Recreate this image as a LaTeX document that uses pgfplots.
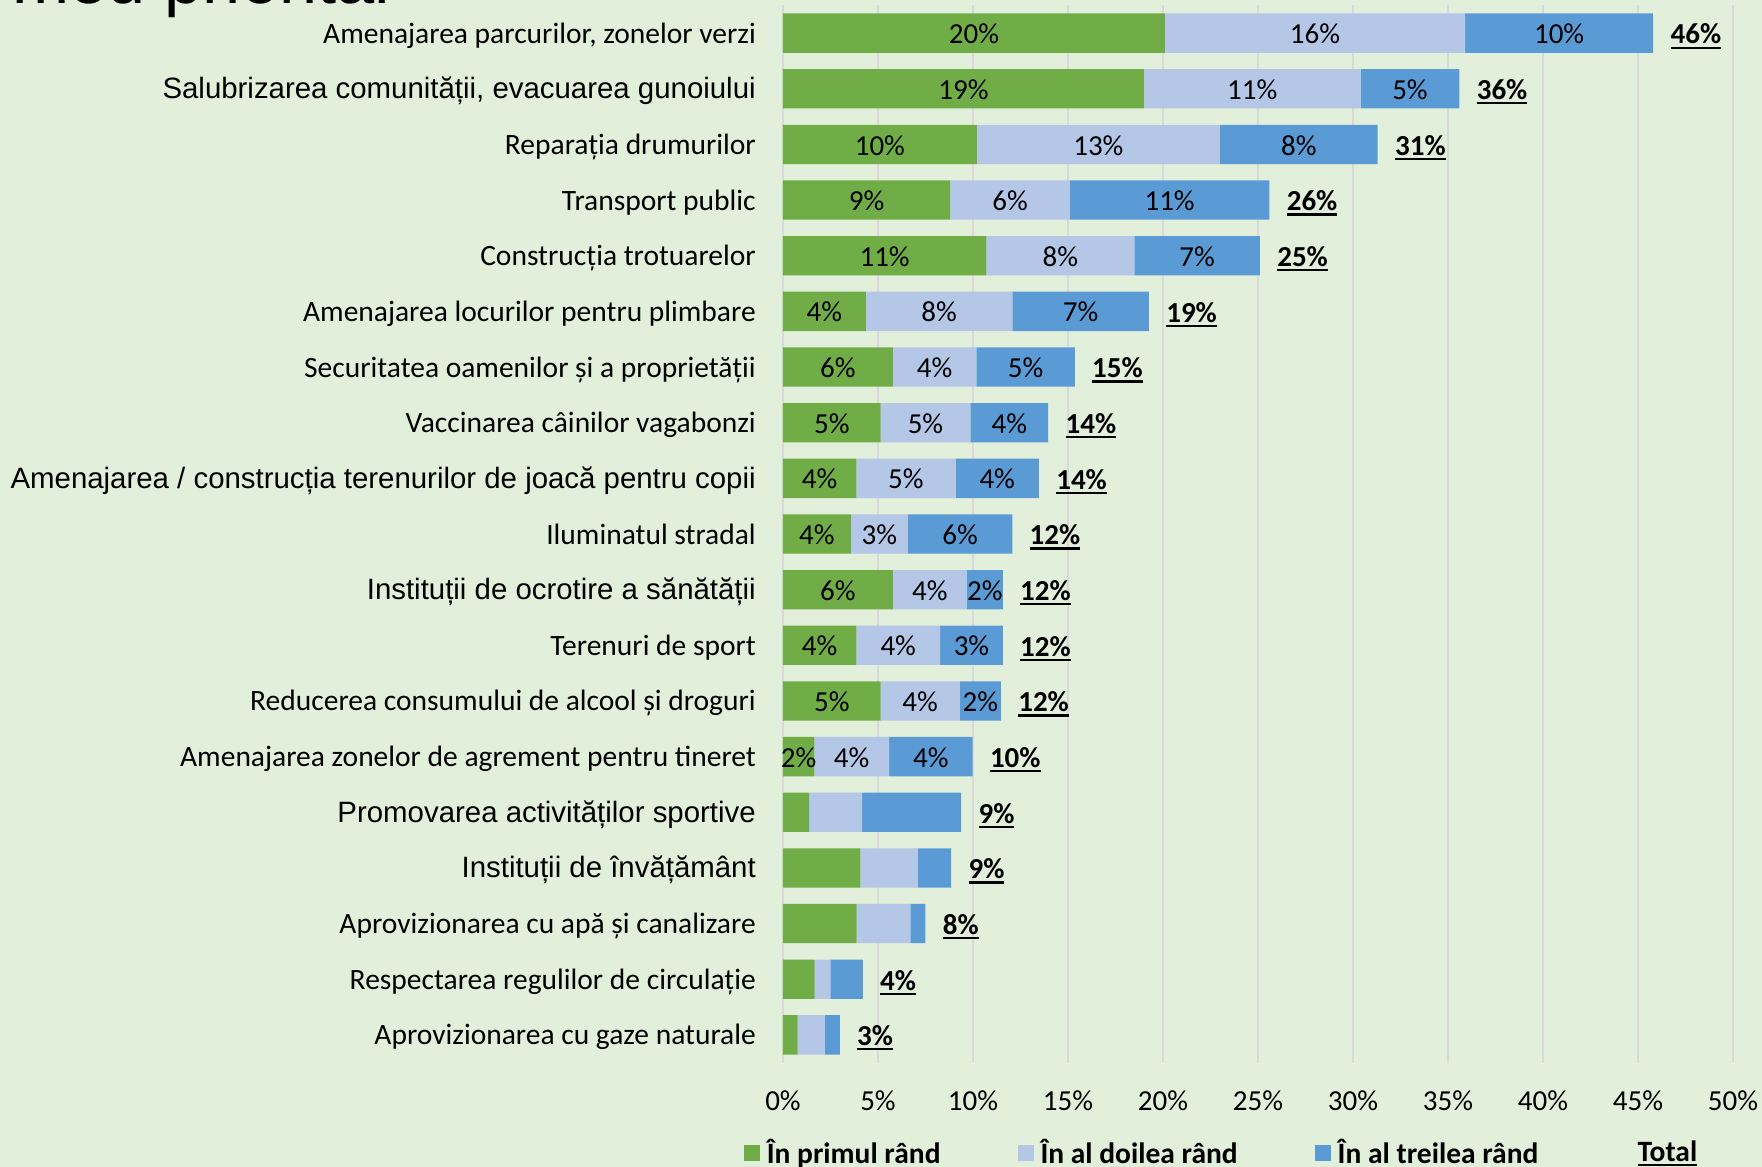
\documentclass[border=0pt]{standalone}
\usepackage{pgfplots}
\pgfplotsset{compat=1.18}
\usepackage{pgfplotstable}
\usepackage{fontspec}
\setmainfont{Carlito}
\newfontfamily\arialf{Liberation Sans}
\definecolor{cG}{HTML}{70AD47}
\definecolor{cL}{HTML}{B4C7E7}
\definecolor{cB}{HTML}{5B9BD5}
\definecolor{bgc}{HTML}{E2EFDA}
\definecolor{gridc}{HTML}{D9D9D9}
\newcommand\lbl{\fontsize{14.5pt}{17pt}\selectfont}
\newcommand\leg{\fontsize{14.75pt}{17pt}\selectfont}
\newcommand\cat{\fontsize{14.75pt}{17pt}\selectfont}
\newcommand\ar{\arialf\fontsize{14.7pt}{17pt}\selectfont}
\newcommand\ulx[1]{\setbox0\hbox{#1}\rlap{\rule[-2.4pt]{\wd0}{1.1pt}}\box0}

\pgfplotstableread{
idx g l b gL lL bL T
0 20.1 15.8 9.9 20 16 10 46
1 19.0 11.4 5.2 19 11 5 36
2 10.2 12.8 8.3 10 13 8 31
3 8.8 6.3 10.5 9 6 11 26
4 10.7 7.8 6.6 11 8 7 25
5 4.36 7.71 7.19 4 8 7 19
6 5.78 4.40 5.18 6 4 5 15
7 5.14 4.72 4.10 5 5 4 14
8 3.86 5.22 4.39 4 5 4 14
9 3.57 3.00 5.50 4 3 6 12
10 5.78 3.90 1.89 6 4 2 12
11 3.86 4.41 3.30 4 4 3 12
12 5.14 4.16 2.17 5 4 2 12
13 1.65 3.93 4.40 2 4 4 10
14 1.38 2.79 5.21 0 0 0 9
15 4.07 3.03 1.75 0 0 0 9
16 3.87 2.83 0.80 0 0 0 8
17 1.67 0.83 1.70 0 0 0 4
18 0.77 1.42 0.80 0 0 0 3
}\data

\begin{document}
\begin{tikzpicture}
\fill[bgc] (-391.5pt,-52.15pt) rectangle (489.5pt,531.35pt);
\useasboundingbox (-391.5pt,-52.15pt) rectangle (489.5pt,531.35pt);
\node[anchor=base west, inner sep=0pt, font=\arialf\fontsize{34.3pt}{40pt}\selectfont] at (-385.5pt,529.4pt) {meu prioritar};

\begin{axis}[
  at={(0,0)}, anchor=south west, scale only axis,
  width=475pt, height=528.7pt,
  xbar stacked, bar width=19.65pt,
  xmin=0, xmax=50, ymin=-0.5, ymax=18.5, y dir=reverse,
  axis line style={draw=none}, major tick length=0pt,
  xmajorgrids, grid style={gridc, line width=0.75pt},
  xtick={0,5,...,50},
  xticklabels={0\%,5\%,10\%,15\%,20\%,25\%,30\%,35\%,40\%,45\%,50\%},
  ytick={0,...,18},
  yticklabels={
    {Amenajarea parcurilor, zonelor verzi},
    {\ar Salubrizarea comunității, evacuarea gunoiului},
    {Reparația drumurilor},
    {Transport public},
    {Construcția trotuarelor},
    {Amenajarea locurilor pentru plimbare},
    {Securitatea oamenilor și a proprietății},
    {Vaccinarea câinilor vagabonzi},
    {\ar Amenajarea / construcția terenurilor de joacă pentru copii},
    {Iluminatul stradal},
    {\ar Instituții de ocrotire a sănătății},
    {Terenuri de sport},
    {Reducerea consumului de alcool și droguri},
    {Amenajarea zonelor de agrement pentru tineret},
    {\ar Promovarea activităților sportive},
    {\ar Instituții de învățământ},
    {Aprovizionarea cu apă și canalizare\ },
    {Respectarea regulilor de circulație},
    {Aprovizionarea cu gaze naturale}},
  xticklabel style={font=\lbl, anchor=base, inner sep=0pt, yshift=-23.85pt, text=black},
  yticklabel style={font=\cat, anchor=base east, inner sep=0pt, xshift=-13.4pt, yshift=-5pt, text=black},
  legend style={at={(0,0)}, anchor=west, xshift=-19.5pt, yshift=-45pt,
    draw=none, fill=none, font=\leg\bfseries, inner sep=0pt, outer sep=0pt,
    nodes={inner sep=0pt},
    /tikz/every even column/.append style={column sep=38.6pt},
    /tikz/every odd column/.append style={column sep=3.5pt}},
  legend columns=4, legend cell align=left,
]
\addplot[fill=cG, draw=none, forget plot] table[x=g, y=idx]{\data};
\addplot[fill=cL, draw=none, forget plot] table[x=l, y=idx]{\data};
\addplot[fill=cB, draw=none, forget plot] table[x=b, y=idx]{\data};
\addlegendimage{legend image code/.code={\fill[cG] (0pt,-3.75pt) rectangle (7.5pt,3.75pt);}}
\addlegendentry{În primul rând}
\addlegendimage{legend image code/.code={\fill[cL] (0pt,-3.75pt) rectangle (7.5pt,3.75pt);}}
\addlegendentry{În al doilea rând}
\addlegendimage{legend image code/.code={\fill[cB] (0pt,-3.75pt) rectangle (7.5pt,3.75pt);}}
\addlegendentry{În al treilea rând}
\addlegendimage{legend image code/.code={\path[draw=none,fill=none] (0pt,-3.75pt) rectangle (7.5pt,3.75pt);}}
\addlegendentry{\ulx{Total}}
\end{axis}

\begin{axis}[
  at={(0,0)}, anchor=south west, scale only axis,
  width=475pt, height=528.7pt,
  xmin=0, xmax=50, ymin=-0.5, ymax=18.5, y dir=reverse,
  hide axis, clip=false,
  nodes near coords={\pgfplotspointmeta\%},
  point meta=explicit symbolic,
  nodes near coords style={font=\lbl, anchor=center, inner sep=0pt, text=black, yshift=-0.4pt},
]
\addplot[only marks, mark=*, mark size=0pt, mark options={draw=none, fill=none},
  skip coords between index={14}{19}]
  table[x expr=\thisrow{g}/2, y=idx, meta=gL]{\data};
\addplot[only marks, mark=*, mark size=0pt, mark options={draw=none, fill=none},
  skip coords between index={14}{19}]
  table[x expr=\thisrow{g}+\thisrow{l}/2, y=idx, meta=lL]{\data};
\addplot[only marks, mark=*, mark size=0pt, mark options={draw=none, fill=none},
  skip coords between index={14}{19}]
  table[x expr=\thisrow{g}+\thisrow{l}+\thisrow{b}/2, y=idx, meta=bL]{\data};
\addplot[only marks, mark=*, mark size=0pt, mark options={draw=none, fill=none},
  nodes near coords={\ulx{\textbf{\pgfplotspointmeta\%}}},
  nodes near coords style={anchor=base west, xshift=8.5pt, yshift=-5pt}]
  table[x expr=\thisrow{g}+\thisrow{l}+\thisrow{b}, y=idx, meta=T]{\data};
\end{axis}
\end{tikzpicture}
\end{document}
